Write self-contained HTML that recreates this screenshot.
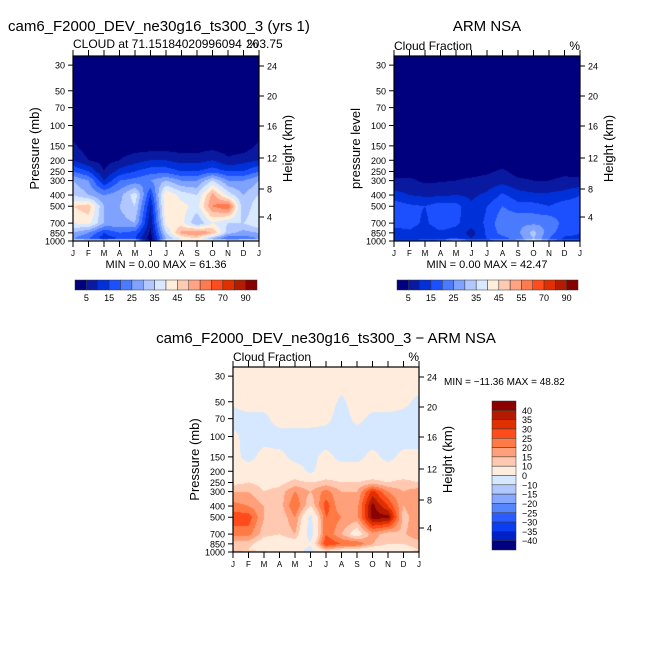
<!DOCTYPE html>
<html><head><meta charset="utf-8">
<style>
body{margin:0;background:#fff;width:654px;height:654px;position:relative;overflow:hidden;font-family:"Liberation Sans",sans-serif}
canvas{position:absolute}
svg{position:absolute;left:0;top:0}
text{font-family:"Liberation Sans",sans-serif;fill:#000}
</style></head><body>
<canvas id="c1" style="left:73px;top:56px" width="186" height="185"></canvas>
<canvas id="c2" style="left:394px;top:56px" width="186" height="185"></canvas>
<canvas id="c3" style="left:233px;top:367px" width="186" height="185"></canvas>
<svg id="ov" width="654" height="654"></svg>
<script>
const months=["J","F","M","A","M","J","J","A","S","O","N","D","J"];
const pLevels=[30,50,70,100,150,200,250,300,400,500,700,850,950,1000];
const pTicks=[30,50,70,100,150,200,250,300,400,500,700,850,1000];
const hTicks=[24,20,16,12,8,4];
const hOffsets=[10,40,70,102,133,161];
const absLevels=[5,10,15,20,25,30,35,40,45,50,55,60,70,80,90];
const absColors=["#00007f","#0a1aa0","#0030d8","#1c50ff","#4a7bff","#7fa2ff","#b0c8ff","#d8e8ff","#ffeedc","#ffcab2","#ffa384","#ff7a4e","#ff4c1c","#e03000","#b41c00","#850000"];
const absLabels=["5","15","25","35","45","55","70","90"];
const diffLevels=[-40,-35,-30,-25,-20,-15,-10,0,10,15,20,25,30,35,40];
const diffColors=["#000080","#0020c8","#0a3cf0","#2a5cff","#5585ff","#88a8ff","#b0c8ff","#d6e8ff","#ffecdc","#ffc8b0","#ffa07a","#ff7a45","#ff4c1a","#e03000","#b31a00","#8b0000"];
const diffLabels=["40","35","30","25","20","15","10","0","\u221210","\u221215","\u221220","\u221225","\u221230","\u221235","\u221240"];
// rows by pressure level, columns by month J..J
const model=[
[0,0,0,0,0,0,0,0,0,0,0,0,0],
[0,0,0,0,0,0,0,0,0,0,0,0,0],
[0,0,0,0,0,0,0,0,0,0,0,0,0],
[1,0,0,0,0,0,0,0,0,0,0,0,1],
[6,2,1,2,2,2,2,2,2,3,2,2,6],
[10,5,3,5,8,10,10,8,8,10,6,8,10],
[20,15,5,12,15,18,18,15,15,18,15,15,20],
[30,25,10,20,22,25,30,25,25,35,25,25,30],
[35,30,25,28,38,15,45,38,35,52,38,30,35],
[45,48,30,30,35,10,45,42,38,55,60,30,40],
[40,42,30,28,30,6,42,42,30,40,35,35,40],
[30,25,15,20,18,4,35,52,56,50,32,28,30],
[25,20,12,15,15,2,30,40,45,30,20,22,25],
[42,42,42,42,42,2,42,42,42,42,42,42,42]];
const obs=[
[0,0,0,0,0,0,0,0,0,0,0,0,0],
[0,0,0,0,0,0,0,0,0,0,0,0,0],
[0,0,0,0,0,0,0,0,0,0,0,0,0],
[0,0,0,0,0,0,0,0,0,0,0,0,0],
[0,0,0,0,0,0,0,0,0,0,0,0,0],
[1,1,1,1,1,1,1,2,1,1,1,1,1],
[3,3,2,3,3,3,4,6,3,3,3,4,3],
[6,6,4,4.5,5,6,7,8,6,5,5,6,6],
[12,10,9,9,10,9,11,16,12,11,11,12,15],
[18,16,15,18,17,11,15,20,17,17,15,18,18],
[18,17,14,18,16,12,16,24,24,24,24,18,18],
[12,14,12,14,13,8,16,22,24,32,22,17,15],
[12,12,12,14,15,10,15,18,22,30,20,14,14],
[18,18,20,22,38,25,25,30,30,45,30,20,20]];
const diff=[
[5,5,5,5,5,5,5,5,5,5,5,5,5],
[1,5,5,5,5,5,5,-2,5,5,5,2,-2],
[-3,-3,-3,5,5,5,3,-5,3,-3,-3,-3,-3],
[2,-3,-3,-5,-5,-5,-5,-5,-5,-5,-5,-5,-5],
[3,-3,3,3,-3,-3,3,-3,-3,3,-3,3,3],
[5,5,5,5,5,-2,5,5,5,5,5,5,5],
[8,10,8,8,12,10,12,10,10,12,10,12,10],
[15,15,10,12,20,15,22,15,15,32,20,15,18],
[22,20,15,12,25,10,28,15,18,42,30,15,20],
[28,28,15,10,20,-3,25,20,18,42,42,12,20],
[22,22,12,10,15,-5,25,15,5,18,12,14,20],
[12,12,5,5,5,1,30,25,25,15,10,10,12],
[12,10,5,5,3,-2,15,10,8,5,5,8,10],
[18,15,12,8,3,-3,5,5,5,5,5,8,12]];

const LP0=Math.log(25),LP1=Math.log(1000);
function yOfP(p,H){return (Math.log(p)-LP0)/(LP1-LP0)*H;}
function pOfY(y,H){return Math.exp(LP0+y/H*(LP1-LP0));}
function sample(grid,m,p){
  let lp=Math.log(Math.max(30,Math.min(1000,p)));
  let i=0;while(i<pLevels.length-2&&Math.log(pLevels[i+1])<lp)i++;
  let a=Math.log(pLevels[i]),b=Math.log(pLevels[i+1]);
  let t=Math.max(0,Math.min(1,(lp-a)/(b-a)));
  let j=Math.min(11,Math.floor(m));let s=m-j;
  let v0=grid[i][j]*(1-s)+grid[i][j+1]*s;
  let v1=grid[i+1][j]*(1-s)+grid[i+1][j+1]*s;
  return v0*(1-t)+v1*t;
}
function hex(c){return [parseInt(c.slice(1,3),16),parseInt(c.slice(3,5),16),parseInt(c.slice(5,7),16)];}
function draw(id,grid,levels,colors){
  const cv=document.getElementById(id),ctx=cv.getContext('2d');
  const W=cv.width,H=cv.height,img=ctx.createImageData(W,H);
  const rgb=colors.map(hex);
  for(let y=0;y<H;y++){const p=pOfY(y+0.5,H);
    for(let x=0;x<W;x++){const v=sample(grid,(x+0.5)/W*12,p);
      let k=0;while(k<levels.length&&v>=levels[k])k++;
      const c=rgb[k],o=(y*W+x)*4;img.data[o]=c[0];img.data[o+1]=c[1];img.data[o+2]=c[2];img.data[o+3]=255;}}
  ctx.putImageData(img,0,0);
}
draw('c1',model,absLevels,absColors);
draw('c2',obs,absLevels,absColors);
draw('c3',diff,diffLevels,diffColors);

const NS="http://www.w3.org/2000/svg",ov=document.getElementById('ov');
function el(tag,attrs,txt){const e=document.createElementNS(NS,tag);for(const k in attrs)e.setAttribute(k,attrs[k]);if(txt!==undefined)e.textContent=txt;ov.appendChild(e);return e;}
function txt(x,y,s,size,anchor,name,rot){const a={x:x,y:y,'font-size':size,'text-anchor':anchor||'start'};if(rot)a.transform='rotate(-90 '+x+' '+y+')';const e=el('text',a,s);

return e;}
function axes(L,T,leftTitle,prefix){
  const W=186,H=185;
  const fr=el('rect',{x:L,y:T,width:W,height:H,fill:'none',stroke:'#000','stroke-width':1.2});
  
  
  months.forEach((m,i)=>{const x=L+i*W/12;
    el('line',{x1:x,y1:T,x2:x,y2:T-6,stroke:'#000'});
    el('line',{x1:x,y1:T+H,x2:x,y2:T+H+6,stroke:'#000'});
    txt(x,T+H+15,m,8,'middle',prefix+'-month-label');});
  pTicks.forEach(p=>{const y=T+yOfP(p,H);
    el('line',{x1:L,y1:y,x2:L-5,y2:y,stroke:'#000'});
    txt(L-8,y+3.5,String(p),9,'end',prefix+'-pressure-tick');});
  hTicks.forEach((h,i)=>{const y=T+hOffsets[i];
    el('line',{x1:L+W,y1:y,x2:L+W+5,y2:y,stroke:'#000'});
    txt(L+W+8,y+3.5,String(h),9,'start',prefix+'-height-tick');});
  txt(L-34,T+H/2,leftTitle,13,'middle',prefix+'-y-axis-title',true);
  txt(L+W+33,T+H/2,'Height (km)',13,'middle',prefix+'-right-axis-title',true);
}
function hbar(L,T,W,levels,colors,labels,prefix){
  const n=colors.length,bw=W/n;
  colors.forEach((c,i)=>{const r=el('rect',{x:L+i*bw,y:T,width:bw,height:10,fill:c,stroke:'#333','stroke-width':0.5});
  
  });
  labels.forEach((s,i)=>{txt(L+(2*i+1)*bw,T+21,s,9,'middle',prefix+'-colorbar-label');});
}
// panel 1
txt(8,31,'cam6_F2000_DEV_ne30g16_ts300_3 (yrs 1)',15,'start','model-title');
txt(73,48,'CLOUD at 71.15184020996094',12,'start','model-subtitle');
txt(246,48,'203.75',12,'start','model-subtitle-lon');
txt(258,48,'%',12,'end','model-units');
axes(73,56,'Pressure (mb)','model');
txt(166,268,'MIN =    0.00 MAX =   61.36',11,'middle','model-min-max');
hbar(75,280,182,absLevels,absColors,absLabels,'model');
// panel 2
txt(487,31,'ARM NSA',15,'middle','obs-title');
txt(394,50,'Cloud Fraction',12,'start','obs-subtitle');
txt(580,50,'%',12,'end','obs-units');
axes(394,56,'pressure level','obs');
txt(487,268,'MIN =    0.00 MAX =   42.47',11,'middle','obs-min-max');
hbar(397,280,181,absLevels,absColors,absLabels,'obs');
// panel 3
txt(326,343,'cam6_F2000_DEV_ne30g16_ts300_3 \u2212 ARM NSA',15,'middle','diff-title');
txt(233,361,'Cloud Fraction',12,'start','diff-subtitle');
txt(419,361,'%',12,'end','diff-units');
axes(233,367,'Pressure (mb)','diff');
txt(444,385,'MIN = \u221211.36 MAX =   48.82',10,'start','diff-min-max');
(function(){const L=492,T=401,H=149,n=diffColors.length,bh=H/n;
  diffColors.slice().reverse().forEach((c,i)=>{const r=el('rect',{x:L,y:T+i*bh,width:24,height:bh,fill:c,stroke:'#333','stroke-width':0.5});
  
  });
  diffLabels.forEach((s,i)=>{txt(522,T+(i+1)*bh+3.5,s,9,'start','diff-colorbar-label');});
})();
</script>
</body></html>
